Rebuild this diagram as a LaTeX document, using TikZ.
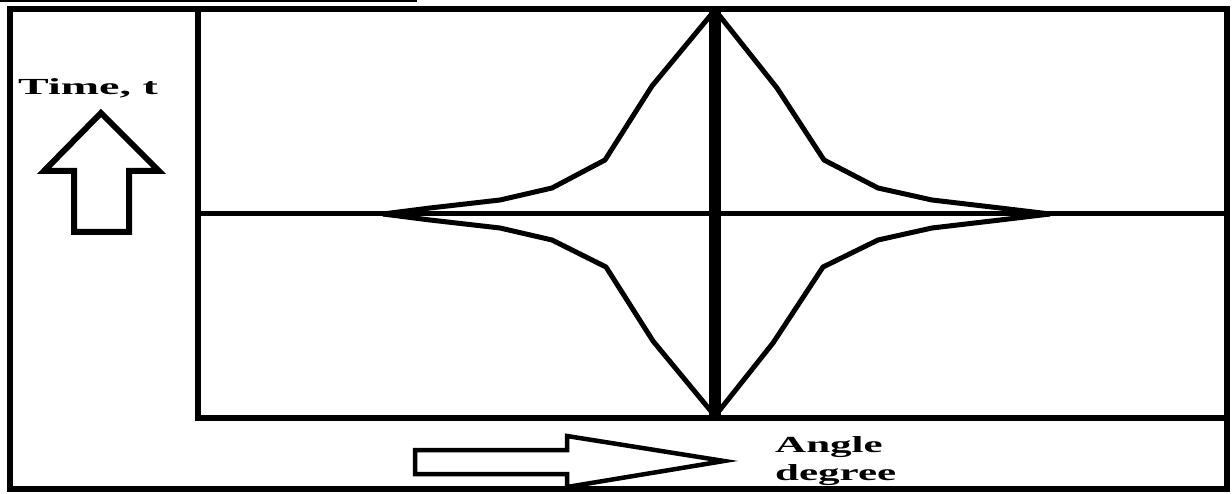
\documentclass[tikz,border=0pt]{standalone}
\usepackage{fontspec}
\setmainfont{Liberation Serif}
\begin{document}
\begin{tikzpicture}[x=1pt,y=-1pt,
  frame/.style={line width=6.5pt,line cap=rect},
  grid/.style={line width=5pt},
  curve/.style={line width=5pt,line join=round},
  bigarrow/.style={line width=6pt,line join=miter},
  thinarrow/.style={line width=4.5pt,line join=miter},
  lbl/.style={font=\fontsize{23}{28}\selectfont\bfseries,inner sep=0pt,align=left}]
\useasboundingbox (0,0) rectangle (1232,494);
\fill[white] (0,0) rectangle (1232,494);
% top thin line
\draw[line width=2pt] (0,1) -- (417,1);
% outer frame
\draw[frame] (10,9) rectangle (1227,489);
% inner frame lines
\draw[frame] (198,9) -- (198,418) -- (1227,418);
\draw[grid] (198,214) -- (1227,214);
% central thick vertical
\draw[line width=12pt] (715,7) -- (715,418);
% curves
\draw[curve] (715,10) -- (652,86) -- (605,160) -- (552,188) -- (500,200) -- (430,208) -- (383,214);
\draw[curve] (715,10) -- (777,88) -- (824,160) -- (878,188) -- (932,200) -- (1000,208) -- (1050,214);
\draw[curve] (715,416) -- (653,341) -- (606,267) -- (552,240) -- (500,228) -- (430,220) -- (383,214);
\draw[curve] (715,416) -- (773,343) -- (823,267) -- (878,240) -- (932,228) -- (1000,220) -- (1050,214);
% up arrow
\draw[bigarrow] (74,232) -- (74,171) -- (44,171) -- (101,113) -- (159,171) -- (129,171) -- (129,232) -- cycle;
% right arrow
\draw[thinarrow] (415,450) -- (567,450) -- (567,436) -- (724,461) -- (567,487) -- (567,474) -- (415,474) -- cycle;
% labels
\node[lbl,anchor=base west] (time) at (18,95) {\scalebox{2}[1]{Time, t}};
\node[lbl,anchor=base west] (ang) at (775,452) {\scalebox{1.87}[1]{Angle}};
\node[lbl,anchor=base west] (deg) at (775,480) {\scalebox{1.87}[1]{degree}};
\end{tikzpicture}
\end{document}
